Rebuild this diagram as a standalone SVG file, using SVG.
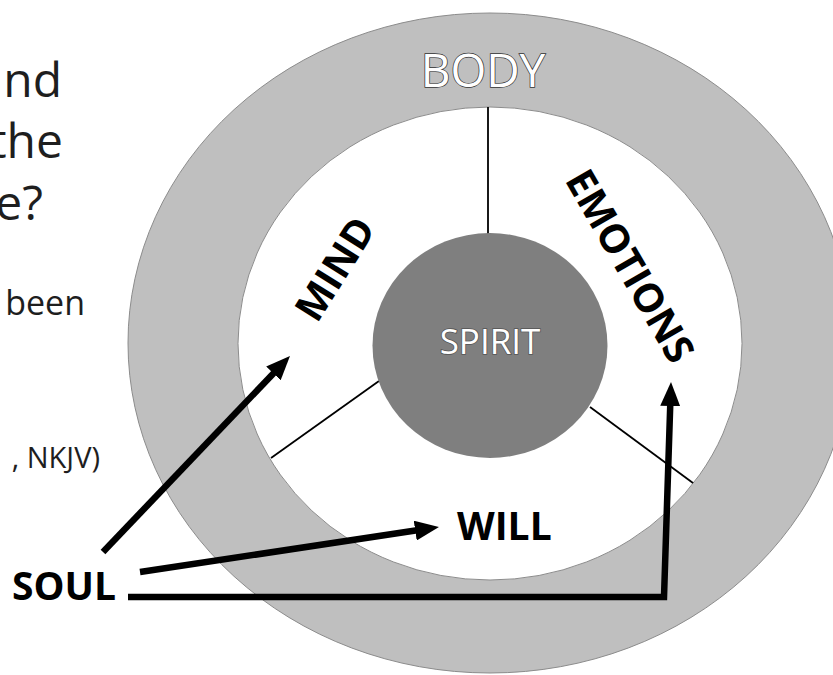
<svg xmlns="http://www.w3.org/2000/svg" width="833" height="675" viewBox="0 0 833 675">
<style>
.side{font-family:"Open Sans","Liberation Sans",sans-serif;fill:#1e1e1e}
.lbl{font-family:"Open Sans","Liberation Sans",sans-serif;font-weight:bold;fill:#000}
.outl{font-family:"Open Sans","Liberation Sans",sans-serif;fill:#fff;stroke:#333;stroke-width:1.5;paint-order:stroke}
.div{stroke:#000;stroke-width:1.8;fill:none}
.arr{stroke:#000;stroke-width:6.5;fill:none;stroke-linejoin:miter;marker-end:url(#head)}
</style>
<defs>
<marker id="head" viewBox="0 0 24 20" markerWidth="24" markerHeight="20" markerUnits="userSpaceOnUse" refX="12" refY="10" orient="auto">
<path d="M0,0 L24,10 L0,20 z" fill="#000"/>
</marker>
</defs>
<rect width="833" height="675" fill="#fff"/>
<g id="side-text">
<text class="side" x="62" y="97" font-size="48" text-anchor="end">and</text>
<text class="side" x="63" y="158" font-size="48" text-anchor="end">the</text>
<text class="side" x="43" y="220" font-size="48" text-anchor="end">e?</text>
<text class="side" x="85" y="315" font-size="34" text-anchor="end">been</text>
<text class="side" x="100" y="468" font-size="29" text-anchor="end">, NKJV)</text>
</g>
<g id="body">
<ellipse cx="490" cy="343" rx="362" ry="330" fill="#bfbfbf" stroke="#8c8c8c" stroke-width="1"/>
<text class="outl" x="483" y="87" font-size="46" text-anchor="middle">BODY</text>
</g>
<g id="soul-area">
<ellipse cx="490" cy="343.5" rx="252" ry="236.5" fill="#fff" stroke="#8c8c8c" stroke-width="1"/>
</g>
<g id="dividers">
<line class="div" x1="488" y1="107" x2="488" y2="234"/>
<line class="div" x1="379" y1="381" x2="271" y2="458"/>
<line class="div" x1="590" y1="407" x2="693" y2="483"/>
</g>
<g id="spirit">
<ellipse cx="490" cy="345.5" rx="117.5" ry="112.5" fill="#7f7f7f"/>
<text class="outl" x="490" y="354" font-size="35" text-anchor="middle" style="stroke:#555;stroke-width:1.6">SPIRIT</text>
</g>
<g id="mind">
<text class="lbl" transform="translate(335,269) rotate(-58)" x="0" y="14" font-size="40" text-anchor="middle">MIND</text>
</g>
<g id="emotions">
<text class="lbl" transform="translate(630,266) rotate(60)" x="0" y="14" font-size="40" text-anchor="middle">EMOTIONS</text>
</g>
<g id="will">
<text class="lbl" x="457" y="540" font-size="39">WILL</text>
</g>
<g id="soul">
<text class="lbl" x="12" y="600" font-size="39">SOUL</text>
</g>
<g id="connectors">
<line class="arr" x1="103" y1="552" x2="281.7" y2="364.7"/>
<line class="arr" x1="140" y1="572" x2="427.1" y2="528.8"/>
<polyline class="arr" points="128,597 664,597 670.6,394"/>
</g>
</svg>
